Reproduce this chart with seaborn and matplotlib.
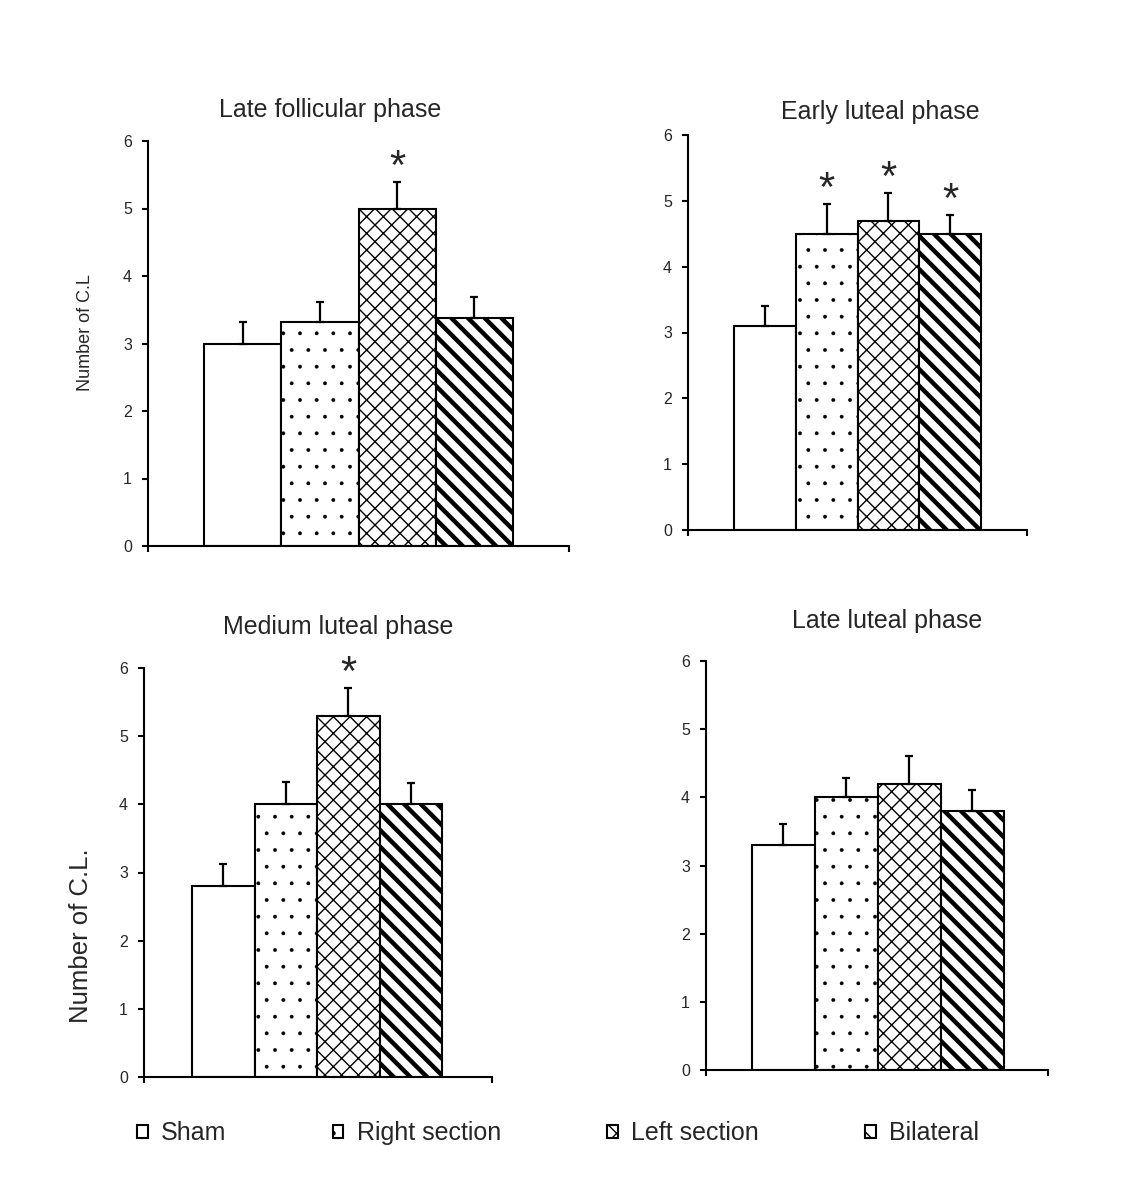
import numpy as np
import pandas as pd
import matplotlib
matplotlib.use('Agg')
import matplotlib.pyplot as plt
from matplotlib.container import BarContainer
import seaborn as sns

# Mean number of corpora lutea (C.L.) and SEM
groups = ['Sham', 'Right section', 'Left section', 'Bilateral']
phases = ['Late follicular phase', 'Early luteal phase',
          'Medium luteal phase', 'Late luteal phase']

late_follicular = [3.0, 3.32, 5.0, 3.38]
late_follicular_sem = [0.32, 0.29, 0.40, 0.31]
early_luteal = [3.1, 4.5, 4.7, 4.5]
early_luteal_sem = [0.30, 0.45, 0.42, 0.29]
medium_luteal = [2.8, 4.0, 5.3, 4.0]
medium_luteal_sem = [0.32, 0.33, 0.41, 0.32]
late_luteal = [3.3, 4.0, 4.2, 3.8]
late_luteal_sem = [0.31, 0.29, 0.41, 0.31]

# bars marked with * (significant vs sham)
late_follicular_sig = [0, 0, 1, 0]
early_luteal_sig = [0, 1, 1, 1]
medium_luteal_sig = [0, 0, 1, 0]
late_luteal_sig = [0, 0, 0, 0]

df = pd.DataFrame({
    'phase': np.repeat(phases, len(groups)),
    'group': groups * len(phases),
    'mean': late_follicular + early_luteal + medium_luteal + late_luteal,
    'sem': late_follicular_sem + early_luteal_sem + medium_luteal_sem + late_luteal_sem,
    'sig': late_follicular_sig + early_luteal_sig + medium_luteal_sig + late_luteal_sig,
})

sns.set_style('ticks')
plt.rcParams['font.family'] = ['Liberation Sans', 'DejaVu Sans']
plt.rcParams['hatch.color'] = 'black'
plt.rcParams['hatch.linewidth'] = 1.0

W, H = 1128, 1198
fig = plt.figure(figsize=(W / 100, H / 100), dpi=100)
fig.patch.set_facecolor('white')


def px_rect(left, right, bottom, top):
    return [left / W, 1 - bottom / H, (right - left) / W, (bottom - top) / H]


# layout per panel (pixel positions measured on the reference)
layout = [
    dict(rect=px_rect(148, 569, 546, 141), xlim=(-0.546, 0.546), title_xy=(330, 110)),
    dict(rect=px_rect(688, 1027, 530, 135), xlim=(-0.549, 0.549), title_xy=(880, 112)),
    dict(rect=px_rect(144, 492, 1077, 668), xlim=(-0.554, 0.560), title_xy=(338, 627)),
    dict(rect=px_rect(706, 1048, 1070, 661), xlim=(-0.545, 0.540), title_xy=(887, 621)),
]
hatches = ['', '.', 'xx', '\\\\']
hatch_lw = [1.0, 0.3, 1.0, 3.2]

axes = []
for phase, lay in zip(phases, layout):
    ax = fig.add_axes(lay['rect'])
    sub = df[df['phase'] == phase]
    sns.barplot(data=sub, x='phase', y='mean', hue='group', hue_order=groups,
                palette=['white'] * 4, saturation=1, edgecolor='black',
                linewidth=1.5, errorbar=None, width=0.8, legend=False, ax=ax)

    bar_conts = [c for c in ax.containers if isinstance(c, BarContainer)]
    centers, heights = [], []
    for cont, hatch, hlw in zip(bar_conts, hatches, hatch_lw):
        for bar in cont:
            bar.set_hatch(hatch)
            if hasattr(bar, 'set_hatch_linewidth'):
                bar.set_hatch_linewidth(hlw)
        b = cont.patches[0]
        centers.append(b.get_x() + b.get_width() / 2)
        heights.append(b.get_height())

    sems = sub['sem'].to_numpy()
    ax.errorbar(centers, heights, yerr=[np.zeros(len(sems)), sems], fmt='none',
                ecolor='black', elinewidth=1.6, capsize=3, capthick=1.6, zorder=3)

    for cx, h, s, sig in zip(centers, heights, sems, sub['sig']):
        if sig:
            ax.annotate('*', xy=(cx, h + s), xytext=(0, 2), textcoords='offset points',
                        ha='center', va='baseline', fontsize=30)

    ax.set_ylim(0, 6)
    ax.set_yticks(range(7))
    ax.set_xlim(*lay['xlim'])
    ax.set_xticks(lay['xlim'])
    ax.set_xticklabels([])
    ax.set_xlabel('')
    ax.set_ylabel('')
    ax.set_facecolor('none')
    sns.despine(ax=ax)
    for sp in ['left', 'bottom']:
        ax.spines[sp].set_linewidth(1.5)
        ax.spines[sp].set_color('black')
    ax.tick_params(axis='both', direction='out', length=4.5, width=1.5,
                   color='black', pad=7, labelsize=11.5)

    fig.text(lay['title_xy'][0] / W, 1 - lay['title_xy'][1] / H, phase,
             ha='center', va='center', fontsize=18)
    axes.append((ax, bar_conts))

fig.text(85 / W, 1 - 333 / H, 'Number of C.L', rotation=90,
         ha='center', va='center', fontsize=13)
fig.text(81 / W, 1 - 936 / H, 'Number of C.L.', rotation=90,
         ha='center', va='center', fontsize=18.5)

handles = [cont.patches[0] for cont in axes[0][1]]
fig.legend(handles, groups, loc='center left', bbox_to_anchor=(137 / W, 1 - 1133 / H),
           ncol=4, frameon=False, fontsize=18, handlelength=0.42, handleheight=0.42,
           handletextpad=0.54, columnspacing=4.25, borderpad=0, borderaxespad=0)

fig.savefig('out.png', dpi=100)
